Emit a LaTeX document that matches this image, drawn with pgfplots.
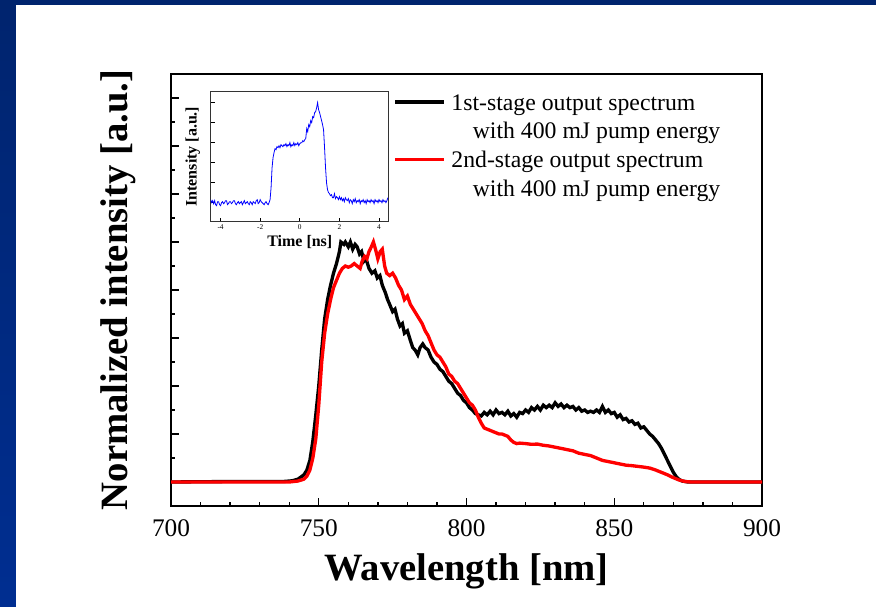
\documentclass[border=0pt]{standalone}
\usepackage{fontspec}
\setmainfont{Liberation Serif}
\usepackage{pgfplots}
\pgfplotsset{compat=1.18}
\definecolor{bgtop}{RGB}{0,36,110}
\definecolor{bgbot}{RGB}{0,46,145}
\begin{document}
\begin{tikzpicture}
\shade[top color=bgtop, bottom color=bgbot] (0pt,0pt) rectangle (657pt,455.25pt);
\fill[white] (12pt,0pt) rectangle (657pt,451.5pt);
\begin{axis}[
  at={(128.25pt,75.75pt)}, anchor=south west,
  scale only axis, width=443.25pt, height=324pt,
  xmin=700, xmax=900, ymin=-0.1, ymax=1.7,
  axis line style={line width=1pt},
  xtick={700,750,...,900}, minor x tick num=4,
  ytick={0,0.2,...,1.6}, minor y tick num=1,
  yticklabels={},
  tick align=inside, xtick pos=bottom, ytick pos=left,
  major tick length=6pt, minor tick length=3pt,
  every tick/.style={line width=1pt, black},
  /pgf/number format/assume math mode=true,
  xticklabel style={font=\fontsize{19}{22}\selectfont, yshift=-6.5pt},
  xlabel={\textbf{Wavelength [nm]}},
  ylabel={\textbf{Normalized intensity [a.u.]}},
  xlabel style={font=\fontsize{29}{32}\selectfont, at={(axis description cs:0.5,-0.152)}, anchor=center},
  ylabel style={font=\fontsize{29}{32}\selectfont, at={(axis description cs:-0.09,0.5)}, anchor=center},
  legend style={draw=none, fill=none, at={(axis description cs:0.376,0.962)}, anchor=north west,
    font=\fontsize{17.8}{22.5}\selectfont, row sep=0pt, column sep=4pt, inner sep=0pt,
    nodes={inner sep=0pt, text height=14.5pt, text depth=7pt}},
  legend cell align=left,
  legend image code/.code={\draw[#1] (0pt,0.5ex) -- (37pt,0.5ex);},
]
\addplot[black, line width=2.5pt] coordinates {
(700,0) (720,0.002) (738,0.002) (741,0.005) (743,0.012) (745,0.03) (746,0.05) (747,0.09) (748,0.17) (749,0.28) (750,0.40) (751,0.55) (752,0.68) (753,0.76) (754,0.82) (755,0.87) (756,0.91) (757,0.96) (757.5,1.0) (758.5,0.99) (759,1.0) (760,0.98) (760.7,1.0) (761.5,0.97) (762.3,0.99) (763,0.98) (763.8,0.95) (764.5,0.96) (765.3,0.92) (766,0.93) (767,0.89) (768,0.87) (769,0.88) (769.8,0.85) (770.7,0.86) (771.5,0.82) (772.5,0.79) (773.3,0.76) (774,0.74) (775,0.71) (775.8,0.72) (776.6,0.68) (777.5,0.65) (778.3,0.66) (779,0.62) (780,0.63) (781,0.59) (781.8,0.56) (782.6,0.55) (783.5,0.53) (784.3,0.56) (785.2,0.575) (786,0.56) (787,0.55) (788,0.52) (789,0.50) (790,0.49) (791,0.47) (792,0.46) (793,0.44) (794,0.42) (795,0.41) (796,0.39) (797,0.37) (798,0.36) (799,0.34) (800,0.33) (801,0.31) (802,0.30) (803,0.285) (804,0.28) (805,0.275) (806,0.29) (807,0.28) (808,0.295) (809,0.28) (810,0.30) (811,0.285) (812,0.29) (813,0.28) (814,0.295) (815,0.275) (816,0.285) (817,0.27) (818,0.29) (819,0.285) (820,0.30) (821,0.29) (822,0.31) (823,0.30) (824,0.315) (825,0.30) (826,0.32) (827,0.31) (828,0.32) (829,0.31) (830,0.33) (831,0.315) (832,0.325) (833,0.31) (834,0.32) (835,0.31) (836,0.315) (837,0.30) (838,0.31) (839,0.295) (840,0.30) (841,0.29) (842,0.295) (843,0.29) (844,0.30) (845,0.29) (846,0.315) (847,0.29) (848,0.30) (849,0.285) (850,0.29) (851,0.27) (852,0.28) (853,0.26) (854,0.265) (855,0.25) (856,0.255) (857,0.24) (858,0.245) (859,0.225) (860,0.23) (861,0.215) (862,0.20) (863,0.19) (864,0.175) (865,0.16) (866,0.14) (867,0.115) (868,0.09) (869,0.065) (870,0.04) (871,0.022) (872,0.01) (873,0.004) (875,0.0) (900,0.0)
};
\addlegendentry{1st-stage output spectrum}
\addlegendimage{empty legend}
\addlegendentry{\hspace{0.9em}with 400 mJ pump energy}
\addplot[red, line width=2.5pt] coordinates {
(700,0) (740,0.0) (743,0.004) (745,0.012) (746,0.025) (747,0.05) (748,0.10) (749,0.18) (750,0.32) (751,0.50) (752,0.62) (753,0.70) (754,0.76) (755,0.81) (756,0.84) (757,0.87) (758,0.89) (759,0.90) (760,0.895) (761,0.90) (762,0.91) (763,0.90) (764,0.89) (764.7,0.92) (765.5,0.94) (766.3,0.93) (767,0.96) (767.8,0.98) (768.5,1.0) (769.2,0.97) (770,0.93) (770.8,0.96) (771.5,0.97) (772.3,0.90) (773,0.87) (774,0.86) (775,0.87) (776,0.85) (777,0.82) (778,0.80) (779,0.76) (780,0.775) (781,0.74) (782,0.72) (783,0.70) (784,0.68) (785,0.66) (786,0.63) (787,0.61) (788,0.58) (789,0.55) (790,0.53) (791,0.52) (792,0.50) (793,0.48) (794,0.45) (795,0.44) (796,0.42) (797,0.41) (798,0.39) (799,0.37) (800,0.35) (801,0.33) (802,0.32) (803,0.30) (804,0.27) (805,0.245) (806,0.225) (807,0.22) (808,0.215) (809,0.21) (810,0.205) (811,0.20) (812,0.20) (813,0.195) (814,0.19) (815,0.175) (816,0.165) (817,0.16) (818,0.162) (820,0.16) (822,0.157) (824,0.158) (826,0.153) (828,0.15) (830,0.145) (832,0.14) (834,0.135) (836,0.13) (838,0.12) (840,0.115) (842,0.11) (844,0.10) (846,0.09) (848,0.085) (850,0.08) (852,0.075) (854,0.07) (856,0.068) (858,0.065) (860,0.062) (862,0.058) (864,0.05) (866,0.04) (868,0.03) (870,0.018) (872,0.008) (874,0.002) (876,0) (900,0)
};
\addlegendentry{2nd-stage output spectrum}
\addlegendimage{empty legend}
\addlegendentry{\hspace{0.9em}with 400 mJ pump energy}
\end{axis}
\begin{axis}[
  at={(158.0pt,289.0pt)}, anchor=south west,
  scale only axis, width=133.7pt, height=97.5pt,
  xmin=-4.5, xmax=4.5, ymin=-0.19, ymax=1.11,
  axis line style={line width=0.75pt, black!80},
  xtick={-4,-2,0,2,4}, ytick={0,0.2,...,1}, yticklabels={},
  tick align=inside, xtick pos=bottom, ytick pos=left,
  major tick length=3pt,
  every tick/.style={line width=0.6pt, black},
  /pgf/number format/assume math mode=true,
  xticklabel style={font=\fontsize{5.5}{6}\selectfont, yshift=1pt},
  xlabel={\textbf{Time [ns]}}, ylabel={\textbf{Intensity [a.u.]}},
  xlabel style={font=\fontsize{12}{13}\selectfont, at={(axis description cs:0.5,-0.16)}, anchor=center},
  ylabel style={font=\fontsize{12}{13}\selectfont, at={(axis description cs:-0.1,0.5)}, anchor=center},
]
\addplot[blue, line width=0.6pt] coordinates {
(-4.5,0.03) (-4.45,0.0) (-4.4,0.02) (-4.35,-0.01) (-4.3,0.02) (-4.25,-0.02) (-4.2,-0.03) (-4.15,0.01) (-4.1,0.01) (-4.05,-0.02) (-4.0,-0.03) (-3.95,0.0) (-3.9,0.01) (-3.85,-0.01) (-3.8,0.0) (-3.75,0.02) (-3.7,0.02) (-3.65,-0.02) (-3.6,-0.01) (-3.55,0.01) (-3.5,0.01) (-3.45,-0.01) (-3.4,0.0) (-3.35,0.02) (-3.3,0.02) (-3.25,-0.01) (-3.2,-0.02) (-3.15,0.0) (-3.1,0.01) (-3.05,-0.01) (-3.0,0.0) (-2.95,0.01) (-2.9,-0.02) (-2.85,0.0) (-2.8,0.02) (-2.75,-0.01) (-2.7,0.0) (-2.65,0.01) (-2.6,-0.01) (-2.55,-0.02) (-2.5,0.01) (-2.45,0.0) (-2.4,-0.02) (-2.35,0.01) (-2.3,0.0) (-2.25,-0.01) (-2.2,0.02) (-2.15,0.03) (-2.1,-0.01) (-2.05,0.0) (-2.0,0.03) (-1.95,0.01) (-1.9,0.0) (-1.85,-0.01) (-1.8,-0.02) (-1.75,0.0) (-1.7,0.01) (-1.65,-0.01) (-1.6,-0.02) (-1.55,0.0) (-1.5,0.03) (-1.45,0.15) (-1.4,0.35) (-1.35,0.45) (-1.3,0.5) (-1.25,0.54) (-1.2,0.53) (-1.15,0.56) (-1.1,0.55) (-1.05,0.57) (-1.0,0.55) (-0.95,0.58) (-0.9,0.57) (-0.85,0.56) (-0.8,0.58) (-0.75,0.57) (-0.7,0.59) (-0.65,0.56) (-0.6,0.58) (-0.55,0.57) (-0.5,0.6) (-0.45,0.56) (-0.4,0.58) (-0.35,0.57) (-0.3,0.6) (-0.25,0.57) (-0.2,0.59) (-0.15,0.58) (-0.1,0.6) (-0.05,0.57) (0,0.59) (0.05,0.6) (0.1,0.6) (0.15,0.62) (0.2,0.61) (0.25,0.63) (0.3,0.64) (0.35,0.74) (0.4,0.71) (0.45,0.78) (0.5,0.76) (0.55,0.82) (0.6,0.8) (0.65,0.86) (0.7,0.85) (0.75,0.9) (0.8,0.91) (0.85,0.95) (0.9,1.0) (0.95,0.93) (1.0,0.9) (1.05,0.86) (1.1,0.82) (1.15,0.78) (1.2,0.73) (1.25,0.55) (1.3,0.35) (1.35,0.2) (1.4,0.13) (1.45,0.1) (1.5,0.09) (1.55,0.07) (1.6,0.08) (1.65,0.05) (1.7,0.05) (1.75,0.09) (1.8,0.04) (1.85,0.06) (1.9,0.05) (1.95,0.03) (2.0,0.06) (2.05,0.03) (2.1,0.05) (2.15,0.02) (2.2,0.04) (2.25,0.01) (2.3,0.05) (2.35,0.03) (2.4,0.02) (2.45,0.04) (2.5,0.0) (2.55,0.03) (2.6,0.02) (2.65,-0.01) (2.7,0.03) (2.75,0.01) (2.8,0.04) (2.85,0.0) (2.9,0.02) (2.95,0.01) (3.0,0.03) (3.05,-0.01) (3.1,0.02) (3.15,0.01) (3.2,0.03) (3.25,0.0) (3.3,0.02) (3.35,-0.01) (3.4,0.03) (3.45,0.01) (3.5,0.02) (3.55,0.0) (3.6,0.03) (3.65,0.01) (3.7,0.02) (3.75,-0.01) (3.8,0.03) (3.85,0.01) (3.9,0.02) (3.95,0.0) (4.0,0.03) (4.05,0.01) (4.1,0.02) (4.15,0.0) (4.2,0.03) (4.25,0.01) (4.3,0.02) (4.35,0.0) (4.4,0.02) (4.45,0.05)
};
\end{axis}
\end{tikzpicture}
\end{document}
